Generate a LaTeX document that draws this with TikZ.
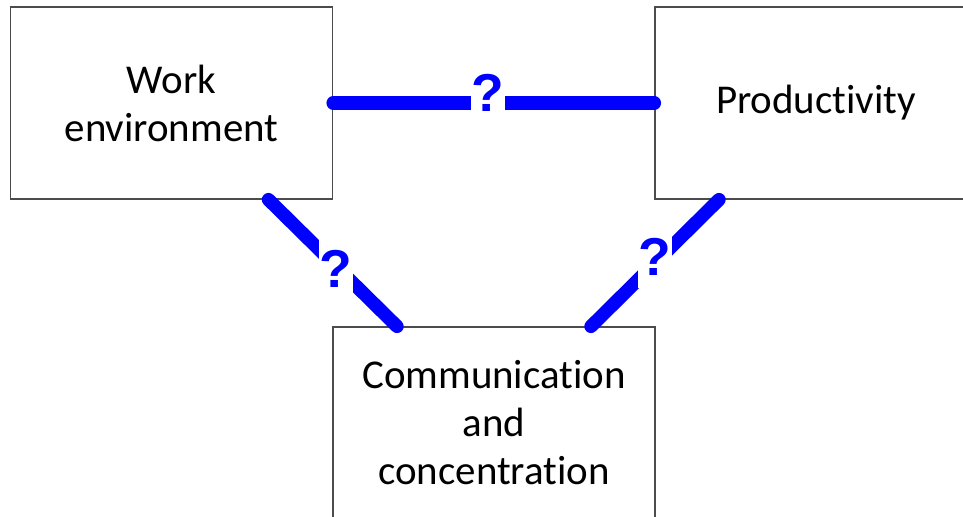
\documentclass[tikz,border=0pt]{standalone}
\usepackage{fontspec}
\usetikzlibrary{calc}
\setmainfont{Carlito}[RawFeature=-liga]
\newfontfamily\qfont{Liberation Sans}[RawFeature=-liga]
\begin{document}
\begin{tikzpicture}[x=0.75pt,y=-0.75pt,
  box/.style={draw=black!70, line width=0.9pt, fill=white, minimum width=322*0.75pt, minimum height=192*0.75pt, inner sep=0pt, align=center, font=\fontsize{30.7}{36}\selectfont},
  conn/.style={draw={rgb,255:red,0;green,0;blue,255}, line width=10pt, line cap=round},
  qm/.style={fill=white, text={rgb,255:red,0;green,0;blue,255}, font=\qfont\bfseries\fontsize{40}{40}\selectfont, inner xsep=0.6pt, inner ysep=0pt, text height=37pt, text depth=9.5pt, anchor=base}]
\useasboundingbox (0,0) rectangle (963,517);
\clip (0,0) rectangle (963,517);
\node[box] (wl) at (171.5,103) {Work\\environment};
\node[box] (pr) at (816,103) {Productivity};
\node[box] (cc) at (494,423) {Communication\\and\\concentration};
\coordinate (wlb) at ($(wl.south west)!0.8!(wl.south east)$);
\coordinate (prb) at ($(pr.south west)!0.2!(pr.south east)$);
\coordinate (ccl) at ($(cc.north west)!0.2!(cc.north east)$);
\coordinate (ccr) at ($(cc.north west)!0.8!(cc.north east)$);
\draw[conn] (wl.east) -- node[qm, xshift=-4.5pt, yshift=-6pt] (q1) {?} (pr.west);
\draw[conn] (wlb) -- node[qm, xshift=2.6pt, yshift=-18pt] (q2) {?} (ccl);
\draw[conn] (prb) -- node[qm, xshift=0pt, yshift=-9pt] (q3) {?} (ccr);
\end{tikzpicture}
\end{document}
